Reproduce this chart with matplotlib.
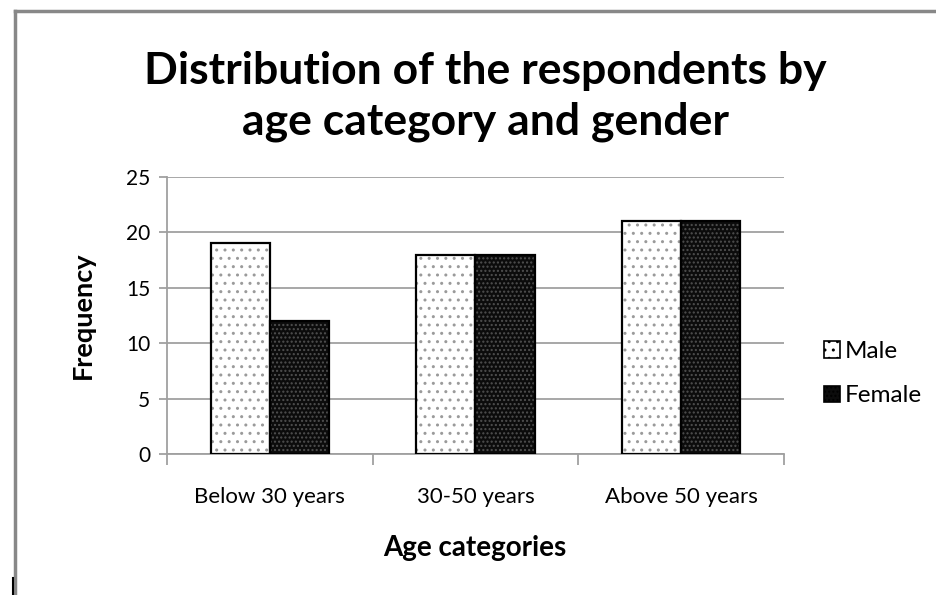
import matplotlib.pyplot as plt
import matplotlib.patches as mpatches
from matplotlib.lines import Line2D
import numpy as np

categories = ["Below 30 years", "30-50 years", "Above 50 years"]
male = [19, 18, 21]
female = [12, 18, 21]
yticks = [0, 5, 10, 15, 20, 25]

plt.rcParams['font.family'] = ['Lato', 'DejaVu Sans']

fig = plt.figure(figsize=(9.36, 5.95), dpi=100)
ax = fig.add_axes([0.1784, 0.237, 0.6592, 0.4655])

x = np.arange(len(categories))
w = 0.287
grid_c = '#a0a0a0'

# patterned fills first, then crisp black outlines on top
ax.bar(x - w / 2, male, w, color='white', hatch='..', edgecolor='#9a9a9a',
       linewidth=0, zorder=2)
ax.bar(x + w / 2, female, w, color='#0c0c0c', hatch='....', edgecolor='#505050',
       linewidth=0, zorder=2)
ax.bar(x - w / 2, male, w, fill=False, edgecolor='black', linewidth=1.6, zorder=3)
ax.bar(x + w / 2, female, w, fill=False, edgecolor='black', linewidth=1.6, zorder=3)

ax.set_xlim(-0.5, len(categories) - 0.5)
ax.set_ylim(0, 25)
ax.set_yticks(yticks)
ax.set_yticklabels([str(v) for v in yticks], fontsize=15)
ax.yaxis.grid(True, color=grid_c, linewidth=1.3, zorder=0)
ax.set_axisbelow(True)

# category labels centred, tick marks on the boundaries
ax.set_xticks(x)
ax.set_xticklabels(categories, fontsize=16)
ax.tick_params(axis='x', length=0, pad=24)
ax.set_xticks(np.arange(len(categories) + 1) - 0.5, minor=True)
ax.tick_params(axis='x', which='minor', length=8, color=grid_c, width=1.3)
ax.tick_params(axis='y', length=6, color=grid_c, width=1.3, pad=6)

for s in ['top', 'right']:
    ax.spines[s].set_visible(False)
for s in ['left', 'bottom']:
    ax.spines[s].set_color(grid_c)
    ax.spines[s].set_linewidth(1.3)

fig.text(0.519, 0.838, "Distribution of the respondents by\nage category and gender",
         ha='center', va='center', fontsize=32, fontweight='bold', linespacing=1.3)
fig.text(0.0887, 0.4706, "Frequency", rotation=90, ha='center', va='center',
         fontsize=19.5, fontweight='bold')
fig.text(0.5075, 0.079, "Age categories", ha='center', va='center',
         fontsize=20, fontweight='bold')

handles = [
    mpatches.Patch(facecolor='white', edgecolor='black', hatch='..', linewidth=1.2),
    mpatches.Patch(facecolor='#0c0c0c', edgecolor='black', hatch='....', linewidth=1.2),
]
fig.legend(handles, ["Male", "Female"], loc='center left', bbox_to_anchor=(0.857, 0.372),
           frameon=False, fontsize=17.5, handlelength=0.65, handleheight=0.65,
           handletextpad=0.2, labelspacing=0.95)

# outer chart frame
fig.add_artist(Line2D([0.016, 0.016], [0.0, 0.982], color='#888888', linewidth=2.5))
fig.add_artist(Line2D([0.016, 1.0], [0.982, 0.982], color='#888888', linewidth=2.5))
fig.add_artist(Line2D([0.0135, 0.0135], [0.0, 0.028], color='black', linewidth=1.5))

fig.savefig("out.png", dpi=100)
